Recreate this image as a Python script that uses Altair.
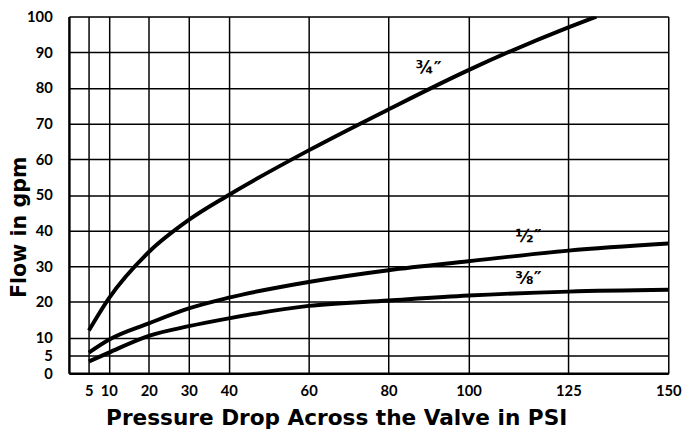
import altair as alt
import pandas as pd

# Axis ticks
x_ticks = [5, 10, 20, 30, 40, 60, 80, 100, 125, 150]
y_ticks = [0, 5, 10, 20, 30, 40, 50, 60, 70, 80, 90, 100]

# Curves (pressure drop in PSI -> flow in gpm)
psi_34 = [5, 10, 20, 30, 40, 60, 80, 100, 125, 132]
gpm_34 = [12, 21, 34, 43, 50, 62.5, 74, 85, 97, 100]

psi_12 = [5, 10, 20, 30, 40, 60, 80, 100, 125, 150]
gpm_12 = [5.8, 9.4, 14, 18.2, 21.2, 25.6, 28.9, 31.4, 34.4, 36.4]

psi_38 = [5, 10, 20, 30, 40, 60, 80, 100, 125, 150]
gpm_38 = [3.3, 5.8, 10.5, 13.2, 15.4, 18.9, 20.4, 21.8, 22.9, 23.4]

# Curve labels
label_text = ["¾″", "½″", "⅜″"]
label_x = [90, 115, 115]
label_y = [85.4, 38.3, 26.5]

rows = []
for name, xs, ys in [("3/4", psi_34, gpm_34), ("1/2", psi_12, gpm_12), ("3/8", psi_38, gpm_38)]:
    for a, b in zip(xs, ys):
        rows.append({"size": name, "psi": a, "gpm": b})
df = pd.DataFrame(rows)
labels = pd.DataFrame({"t": label_text, "x": label_x, "y": label_y})

TITLE_FONT = "DejaVu Sans"
LABEL_FONT = "Lato"

xscale = alt.Scale(domain=[0, 150], nice=False, zero=False)
yscale = alt.Scale(domain=[0, 100], nice=False, zero=False)

xaxis = alt.Axis(
    values=x_ticks, title="Pressure Drop Across the Valve in PSI",
    grid=True, gridColor="black", gridWidth=1.5, gridOpacity=1,
    ticks=False, domain=True, domainColor="black", domainWidth=2.5,
    labelFont=LABEL_FONT, labelFontSize=15, labelFontWeight="bold", labelColor="black",
    labelPadding=11, labelOverlap=False, labelBound=False, labelFlush=False,
    titleFont=TITLE_FONT, titleFontSize=22, titleFontWeight="bold", titleColor="black",
    titleX=272, titleY=52, titleBaseline="alphabetic", titleAnchor="middle",
)
yaxis = alt.Axis(
    values=y_ticks, title="Flow in gpm",
    grid=True, gridColor="black", gridWidth=1.5, gridOpacity=1,
    ticks=False, domain=True, domainColor="black", domainWidth=2.5,
    labelFont=LABEL_FONT, labelFontSize=15, labelFontWeight="bold", labelColor="black",
    labelPadding=17, labelOverlap=False, labelBound=False, labelFlush=False,
    titleFont=TITLE_FONT, titleFontSize=21, titleFontWeight="bold", titleColor="black",
    titleX=-50, titleY=214, titleBaseline="middle", titleAlign="center", titleAngle=270,
)

lines = alt.Chart(df).mark_line(color="black", strokeWidth=4, interpolate="monotone", clip=True).encode(
    x=alt.X("psi:Q", scale=xscale, axis=xaxis),
    y=alt.Y("gpm:Q", scale=yscale, axis=yaxis),
    detail="size:N",
)

texts = alt.Chart(labels).mark_text(
    font=TITLE_FONT, fontSize=18, fontWeight="bold", color="black"
).encode(
    x=alt.X("x:Q", scale=xscale, axis=xaxis),
    y=alt.Y("y:Q", scale=yscale, axis=yaxis),
    text="t:N",
)

chart = alt.layer(lines, texts).properties(
    width=610, height=363,
    autosize=alt.AutoSizeParams(type="none"),
    padding={"left": 62, "top": 5, "right": 16, "bottom": 56},
).configure_view(stroke="black", strokeWidth=2.5).configure(background="white")

chart.save("out.html", embed_options={"renderer": "svg", "actions": False})
